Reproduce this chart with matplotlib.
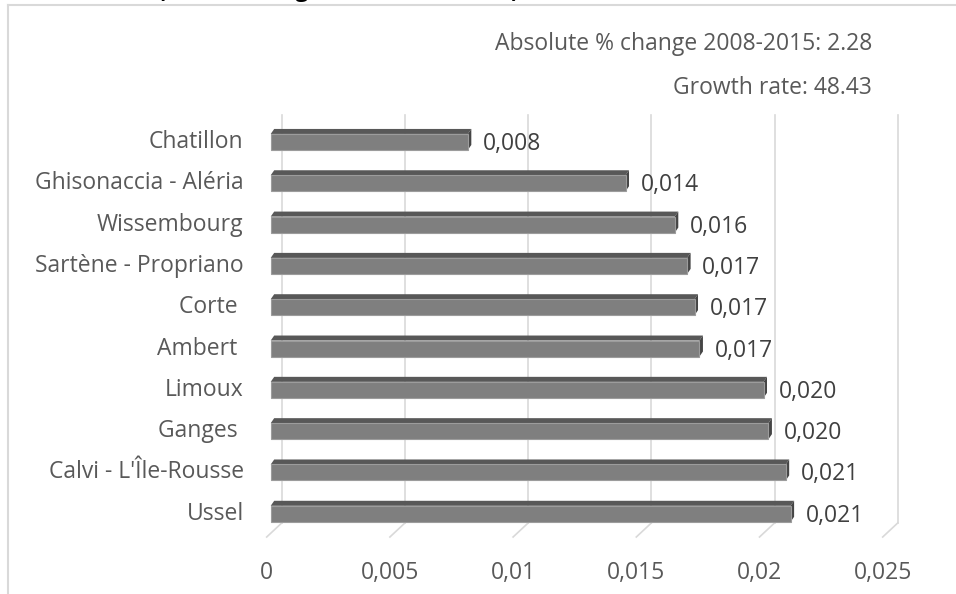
import matplotlib
matplotlib.use('Agg')
import matplotlib.pyplot as plt
from matplotlib.lines import Line2D

plt.rcParams['font.family'] = ['Open Sans', 'DejaVu Sans']

# ============================================================
# DATA
# ============================================================
areas = ['Chatillon', 'Ghisonaccia - Aléria', 'Wissembourg', 'Sartène - Propriano',
         'Corte ', 'Ambert ', 'Limoux', 'Ganges ', "Calvi - L'Île-Rousse", 'Ussel']
values = [0.0080, 0.0144, 0.0164, 0.0169, 0.0172, 0.0174, 0.0200, 0.0202, 0.0209, 0.0211]
x_ticks = [0, 0.005, 0.01, 0.015, 0.02, 0.025]
x_tick_labels = ['0', '0,005', '0,01', '0,015', '0,02', '0,025']
abs_change = 2.28
growth_rate = 48.43

W, H, DPI = 956, 594, 100
FS = 16.5
fig = plt.figure(figsize=(W / DPI, H / DPI), dpi=DPI)

# back wall of the 3D plot area, in pixels
ax_left, ax_right, ax_top, ax_bot = 281.7, 897.7, 115, 523
ax = fig.add_axes([ax_left / W, 1 - ax_bot / H, (ax_right - ax_left) / W, (ax_bot - ax_top) / H])
XMAX = 0.025
Y_LO, Y_HI = -0.465, 9.41
ax.set_xlim(0, XMAX)
ax.set_ylim(Y_LO, Y_HI)
ax.axis('off')

# pixel -> data unit factors
PX = (ax_right - ax_left) / XMAX
PY = (ax_bot - ax_top) / (Y_HI - Y_LO)

# 3D offsets (pixels, right / up)
FRONT = (-11, -10)     # bar front face relative to back wall
DEPTH = (3.5, 5)       # bar thickness seen from above
FLOOR = (-15, -14)     # front edge of floor relative to back wall
BAR_H = 16 / PY

grid_c = '#d9d9d9'
for t in x_ticks:
    ax.plot([t, t], [Y_LO, Y_HI], color=grid_c, lw=1.2, zorder=0, clip_on=False)
    ax.plot([t, t + FLOOR[0] / PX], [Y_LO, Y_LO + FLOOR[1] / PY],
            color=grid_c, lw=1.2, zorder=0, clip_on=False)

n = len(areas)
fx, fy = FRONT[0] / PX, FRONT[1] / PY
dx, dy = DEPTH[0] / PX, DEPTH[1] / PY
for i, (name, v) in enumerate(zip(areas, values)):
    yc = (n - 1 - i) + fy
    y0, y1 = yc - BAR_H / 2, yc + BAR_H / 2
    x0, x1 = fx, fx + v
    # top face
    ax.fill([x0, x1, x1 + dx, x0 + dx], [y1, y1, y1 + dy, y1 + dy],
            color='#585858', lw=0, zorder=2, clip_on=False)
    # end face
    ax.fill([x1, x1 + dx, x1 + dx, x1], [y0, y0 + dy, y1 + dy, y1],
            color='#454545', lw=0, zorder=2, clip_on=False)
    # front face
    ax.fill([x0, x1, x1, x0], [y0, y0, y1, y1],
            facecolor='#7f7f7f', edgecolor='#9c9c9c', lw=0.8, zorder=3, clip_on=False)
    ax.text(x1 + 15 / PX, yc - 2 / PY, f'{v:.3f}'.replace('.', ','), ha='left', va='center',
            fontsize=FS, color='#404040', clip_on=False)
    ax.text(fx - 27 / PX, yc, name, ha='right', va='center',
            fontsize=FS, color='#595959', clip_on=False)

for t, lab in zip(x_ticks, x_tick_labels):
    ax.text(t + FLOOR[0] / PX, Y_LO + FLOOR[1] / PY - 36 / PY, lab, ha='center', va='center',
            fontsize=FS, color='#595959', clip_on=False)

# chart frame
fig.add_artist(Line2D([7.5 / W, 7.5 / W], [0, 1 - 4.5 / H], color='#d9d9d9', lw=1.5))
fig.add_artist(Line2D([7.5 / W, 1], [1 - 4.5 / H, 1 - 4.5 / H], color='#d9d9d9', lw=1.5))

fig.text(872 / W, 1 - 44 / H, f'Absolute % change 2008-2015: {abs_change}', ha='right', va='center',
         fontsize=FS, color='#595959')
fig.text(872 / W, 1 - 88 / H, f'Growth rate: {growth_rate}', ha='right', va='center',
         fontsize=FS, color='#595959')

# heading sits above the frame
fig.text(158 / W, 1 + 3 / H, '(Area ranking of ten small areas)', ha='left', va='baseline',
         fontsize=16, fontweight='bold', color='black')

fig.savefig('out.png', dpi=DPI)
